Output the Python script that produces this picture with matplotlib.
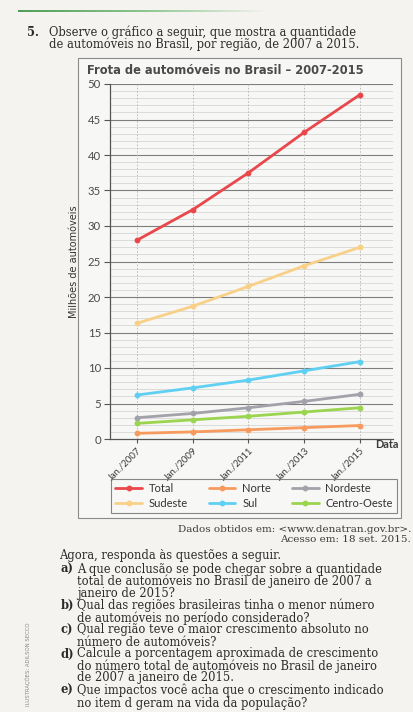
import numpy as np
import matplotlib
matplotlib.use("Agg")
import matplotlib.pyplot as plt
from matplotlib.patches import Rectangle
from matplotlib.colors import LinearSegmentedColormap

# ---- data (millions of cars) ----
periods = ["Jan./2007", "Jan./2009", "Jan./2011", "Jan./2013", "Jan./2015"]
total = [28.0, 32.3, 37.5, 43.2, 48.5]
sudeste = [16.3, 18.7, 21.5, 24.4, 27.0]
sul = [6.2, 7.2, 8.3, 9.6, 10.9]
nordeste = [3.0, 3.6, 4.4, 5.3, 6.3]
centro_oeste = [2.2, 2.7, 3.2, 3.8, 4.4]
norte = [0.8, 1.0, 1.3, 1.6, 1.9]
y_ticks = [0, 5, 10, 15, 20, 25, 30, 35, 40, 45, 50]

W, H = 414, 712
PAGE = "#f4f3f0"
fig = plt.figure(figsize=(W / 100, H / 100), dpi=100, facecolor=PAGE)


def fx(x):
    return x / W


def fy(y):
    return 1 - y / H


SERIF = ["DejaVu Serif"]
SANS = ["Lato", "DejaVu Sans"]
NARROW = ["DejaVu Sans Condensed", "Liberation Sans Narrow", "DejaVu Sans"]
TXT = "#2b2b2b"

# ---- green rule at the top of the page ----
bar_ax = fig.add_axes([fx(18), fy(12.5), fx(250), 3 / H])
grad = np.linspace(0, 1, 256).reshape(1, -1)
cmap = LinearSegmentedColormap.from_list("g", ["#4f9e58", "#8cc58e", PAGE])
bar_ax.imshow(grad, aspect="auto", cmap=cmap, extent=[0, 1, 0, 1])
bar_ax.axis("off")

# ---- question header ----
body = 8.3
fig.text(fx(27), fy(32), "5.", fontsize=body, fontweight="bold", family=SERIF,
         color=TXT, va="center", ha="left")
fig.text(fx(49), fy(32), "Observe o gráfico a seguir, que mostra a quantidade",
         fontsize=body, family=SERIF, color=TXT, va="center", ha="left")
fig.text(fx(49), fy(44.5), "de automóveis no Brasil, por região, de 2007 a 2015.",
         fontsize=body, family=SERIF, color=TXT, va="center", ha="left")

# ---- chart frame ----
fig.patches.append(Rectangle((fx(78), fy(518)), fx(401) - fx(78), fy(58) - fy(518),
                             transform=fig.transFigure, facecolor="#f7f7f5",
                             edgecolor="#8a8a8a", linewidth=0.8, zorder=-1))

fig.text(fx(87), fy(70), "Frota de automóveis no Brasil – 2007-2015",
         fontsize=8.3, fontweight="bold", family=["DejaVu Sans"], color="#4a4a4a",
         va="center", ha="left")

# ---- plot area ----
x0, x4 = 137, 360
step = (x4 - x0) / 4
left_px, right_px = 110, 393
ax = fig.add_axes([fx(left_px), fy(439), fx(right_px - left_px), (439 - 84) / H])
ax.set_facecolor("none")
ax.set_xlim((left_px - x0) / step, (right_px - x0) / step)
ax.set_ylim(0, 50)

xs = np.arange(len(periods))

# horizontal grid: minor every unit, major every 5
for v in range(1, 51):
    if v % 5 == 0:
        ax.axhline(v, color="#7d7d7d", lw=0.8, zorder=1)
    else:
        ax.axhline(v, color="#cfcfcf", lw=0.5, zorder=1)
for xv in xs:
    ax.axvline(xv, color="#b5b5b5", lw=0.6, ls=(0, (2, 2)), zorder=1)

series = [
    ("Total", total, "#e9474b"),
    ("Sudeste", sudeste, "#f8d088"),
    ("Norte", norte, "#f79a5e"),
    ("Sul", sul, "#5fd0f2"),
    ("Nordeste", nordeste, "#a2a2aa"),
    ("Centro-Oeste", centro_oeste, "#9bd44e"),
]
handles = {}
for name, vals, col in series:
    (ln,) = ax.plot(xs, vals, color=col, lw=2.0, marker="o", ms=3.2,
                    label=name, zorder=3, solid_capstyle="round", clip_on=False)
    handles[name] = ln

for s in ["top", "right"]:
    ax.spines[s].set_visible(False)
for s in ["left", "bottom"]:
    ax.spines[s].set_color("#555555")
    ax.spines[s].set_linewidth(0.9)

ax.set_yticks(y_ticks)
ax.set_yticklabels([str(v) for v in y_ticks])
ax.set_xticks(xs)
ax.set_xticklabels(periods)
ax.tick_params(axis="y", direction="out", length=4, width=0.8, color="#555555",
               labelsize=8.2, labelcolor="#4a4a4a", pad=2.5)
ax.tick_params(axis="x", direction="out", length=3, width=0.8, color="#555555",
               labelsize=6.8, labelcolor="#3a3a3a", pad=2)
for lab in ax.get_yticklabels():
    lab.set_family(SANS)
for lab in ax.get_xticklabels():
    lab.set_family(SANS)
    lab.set_rotation(45)
    lab.set_ha("right")
    lab.set_rotation_mode("anchor")

fig.text(fx(74), fy(262), "Milhões de automóveis", rotation=90, fontsize=7.0,
         family=NARROW, color="#333333", va="center", ha="center")
fig.text(fx(375), fy(445), "Data", fontsize=7.8, fontweight="bold",
         family=SANS, color="#3a3a3a", va="center", ha="left")

order = ["Total", "Sudeste", "Norte", "Sul", "Nordeste", "Centro-Oeste"]
leg = fig.legend([handles[n] for n in order], order, ncol=3, loc="center",
                 bbox_to_anchor=(fx(254), fy(496)), bbox_transform=fig.transFigure,
                 frameon=True, fancybox=False, edgecolor="#6a6a6a",
                 facecolor="none", handlelength=2.4, handletextpad=0.6,
                 columnspacing=1.9, labelspacing=0.3, borderpad=0.4,
                 numpoints=1, prop={"family": SANS, "size": 8.0})
leg.get_frame().set_linewidth(0.8)
for t in leg.get_texts():
    t.set_color("#333333")

# ---- source note ----
fig.text(fx(411), fy(529), "Dados obtidos em: <www.denatran.gov.br>.",
         fontsize=7.5, family=SERIF, color="#3a3a3a", va="center", ha="right")
fig.text(fx(411), fy(540), "Acesso em: 18 set. 2015.",
         fontsize=7.5, family=SERIF, color="#3a3a3a", va="center", ha="right")

# ---- questions ----
fig.text(fx(59), fy(555), "Agora, responda às questões a seguir.",
         fontsize=body, family=SERIF, color=TXT, va="center", ha="left")
items = [
    ("a)", ["A que conclusão se pode chegar sobre a quantidade",
            "total de automóveis no Brasil de janeiro de 2007 a",
            "janeiro de 2015?"]),
    ("b)", ["Qual das regiões brasileiras tinha o menor número",
            "de automóveis no período considerado?"]),
    ("c)", ["Qual região teve o maior crescimento absoluto no",
            "número de automóveis?"]),
    ("d)", ["Calcule a porcentagem aproximada de crescimento",
            "do número total de automóveis no Brasil de janeiro",
            "de 2007 a janeiro de 2015."]),
    ("e)", ["Que impactos você acha que o crescimento indicado",
            "no item d geram na vida da população?"]),
]
line_y = [569, 581, 593, 605.5, 618, 630, 642, 654, 666, 678, 690, 703]
k = 0
for letter, lines in items:
    fig.text(fx(61), fy(line_y[k]), letter, fontsize=body, fontweight="bold",
             family=SERIF, color=TXT, va="center", ha="left")
    for ln_txt in lines:
        fig.text(fx(77), fy(line_y[k]), ln_txt, fontsize=body, family=SERIF,
                 color=TXT, va="center", ha="left")
        k += 1

fig.text(fx(28), fy(622), "ILUSTRAÇÕES: ADILSON SECCO", rotation=90, fontsize=3.9,
         family=NARROW, color="#8a8a8a", va="top", ha="center")

fig.savefig("out.png", dpi=100, facecolor=PAGE)
